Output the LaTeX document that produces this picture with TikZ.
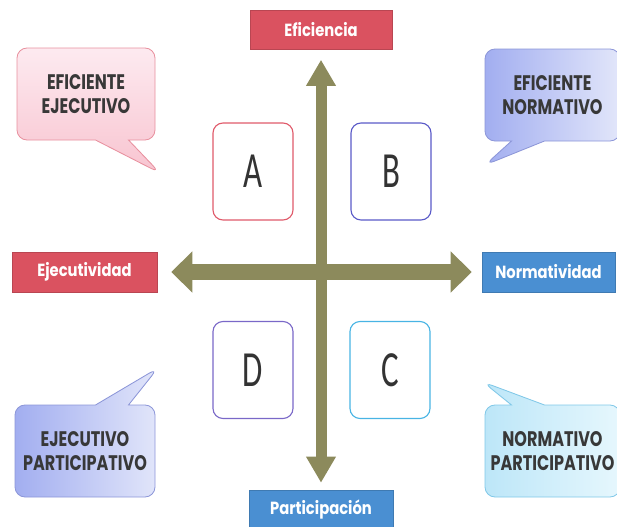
\documentclass[tikz,border=0pt]{standalone}
\usepackage{fontspec}
\usepackage{tikz}
\usetikzlibrary{arrows.meta, shapes.callouts}
\newfontfamily\labelfont[FakeStretch=0.84]{Poppins}
\newfontfamily\callfont[FakeStretch=0.76]{Poppins}
\newfontfamily\letterfont[FakeStretch=0.65]{Carlito}
\definecolor{axisOlive}{HTML}{8C8A5C}
\definecolor{redBox}{HTML}{DA5260}
\definecolor{blueBox}{HTML}{4A8FD2}
\definecolor{lineA}{HTML}{E05A6A}
\definecolor{lineB}{HTML}{5A5AC8}
\definecolor{lineC}{HTML}{48B4E4}
\definecolor{lineD}{HTML}{7A68C8}
\definecolor{pinkLine}{HTML}{E8909E}
\definecolor{pinkTop}{HTML}{FDEAF0}
\definecolor{pinkBot}{HTML}{F8C4D0}
\definecolor{violetLine}{HTML}{8C96D8}
\definecolor{violetDark}{HTML}{A2AEF0}
\definecolor{violetLight}{HTML}{E2E6FA}
\definecolor{cyanLine}{HTML}{80C8E8}
\definecolor{cyanDark}{HTML}{BCE6F8}
\definecolor{cyanLight}{HTML}{E6F7FD}
\def\pxl{0.025cm}

\begin{document}
\begin{tikzpicture}[x=0.025cm, y=-0.025cm,
	axisbox/.style={draw=#1!85!black, fill=#1, text=white, minimum width=142*\pxl, minimum height=39*\pxl, inner sep=0pt, font=\labelfont\bfseries\fontsize{12.5}{14}\selectfont},
	letterbox/.style={draw=#1, line width=0.8pt, fill=white, rounded corners=10*\pxl, minimum width=80*\pxl, minimum height=97*\pxl, inner sep=0pt, font=\letterfont\fontsize{36}{40}\selectfont, text=black!80},
	bubble/.style={rectangle callout, draw=#1, line width=0.6pt, rounded corners=10*\pxl, minimum width=138*\pxl, minimum height=92*\pxl, callout pointer width=0.825cm, align=center, inner sep=0pt, font=\callfont\bfseries\fontsize{15}{16.5}\selectfont, text=black!78},
	axisline/.style={draw=axisOlive, fill=axisOlive, line width=#1*\pxl},
]
	\useasboundingbox (0,0) rectangle (617,526);

	% axis labels
	\node[axisbox=redBox] (efi) at (321,30) {Eficiencia};
	\node[axisbox=redBox, minimum width=145*\pxl, minimum height=40*\pxl] (eje) at (84.5,272) {Ejecutividad};
	\node[axisbox=blueBox, minimum width=133*\pxl, minimum height=40*\pxl] (nor) at (548.5,272) {Normatividad};
	\node[axisbox=blueBox, minimum width=144*\pxl] (par) at (321,509.5) {Participación};

	% axes
	\draw[axisline=16, {Triangle[length=0.525cm, width=1cm]}-{Triangle[length=0.525cm, width=1cm]}, shorten <=0.35cm, shorten >=0.25cm] (eje) -- (nor);
	\draw[axisline=11, {Triangle[length=0.65cm, width=0.7cm]}-{Triangle[length=0.65cm, width=0.7cm]}, shorten <=0.25cm, shorten >=0.175cm] (efi) -- (par);

	% quadrants
	\node[letterbox=lineA] (qa) at (253,171.5) {A};
	\node[letterbox=lineB] (qb) at (391,171.5) {B};
	\node[letterbox=lineC] (qc) at (390,370) {C};
	\node[letterbox=lineD] (qd) at (253,370) {D};

	% callouts
	\node[bubble=pinkLine, top color=pinkTop, bottom color=pinkBot, callout absolute pointer={(160,173)}] (ee) at (86,94) {EFICIENTE\\EJECUTIVO};
	\node[bubble=violetLine, left color=violetDark, right color=violetLight, minimum width=135*\pxl, callout absolute pointer={(485,165)}] (en) at (552.5,95) {EFICIENTE\\NORMATIVO};
	\node[bubble=violetLine, left color=violetDark, right color=violetLight, minimum width=140*\pxl, callout absolute pointer={(158,368)}] (ep) at (85,451) {EJECUTIVO\\PARTICIPATIVO};
	\node[bubble=cyanLine, left color=cyanDark, right color=cyanLight, minimum width=135*\pxl, callout absolute pointer={(483,382)}] (np) at (552.5,451) {NORMATIVO\\PARTICIPATIVO};

\end{tikzpicture}
\end{document}
